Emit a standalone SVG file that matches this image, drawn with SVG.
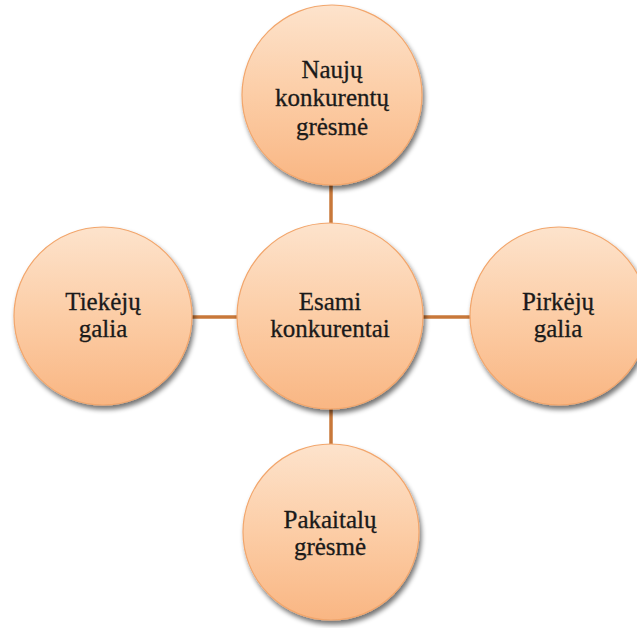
<svg xmlns="http://www.w3.org/2000/svg" width="637" height="628" viewBox="0 0 637 628">
  <defs>
    <linearGradient id="peach" x1="0" y1="0" x2="0" y2="1">
      <stop offset="0" stop-color="#fde3cc"/>
      <stop offset="0.5" stop-color="#fccda6"/>
      <stop offset="1" stop-color="#f9b683"/>
    </linearGradient>
    <filter id="shadow" x="-20%" y="-20%" width="140%" height="140%">
      <feGaussianBlur in="SourceAlpha" stdDeviation="2.5"/>
      <feOffset dx="2" dy="4" result="b"/>
      <feComponentTransfer in="b" result="s">
        <feFuncA type="linear" slope="0.55"/>
      </feComponentTransfer>
      <feMerge>
        <feMergeNode in="s"/>
        <feMergeNode in="SourceGraphic"/>
      </feMerge>
    </filter>
  </defs>
  <style>
    .node { fill: url(#peach); stroke: #f2a66c; stroke-width: 1.2; filter: url(#shadow); }
    .conn { stroke: #c8783a; stroke-width: 3.5; fill: none; }
    .lbl { font-family: "Liberation Serif", "Times New Roman", serif; font-size: 25px; fill: #1a1a1a; stroke: #1a1a1a; stroke-width: 0.3; text-anchor: middle; }
  </style>
  <rect width="637" height="628" fill="#ffffff"/>
  <g id="connectors">
    <line class="conn" x1="331" y1="185" x2="331" y2="225"/>
    <line class="conn" x1="192" y1="317" x2="237" y2="317"/>
    <line class="conn" x1="423" y1="317" x2="471" y2="317"/>
    <line class="conn" x1="331" y1="407" x2="331" y2="446"/>
  </g>
  <g id="top">
    <circle class="node" cx="332" cy="95" r="90"/>
    <text class="lbl" x="332" y="78">Naujų</text>
    <text class="lbl" x="332" y="106">konkurentų</text>
    <text class="lbl" x="332" y="135">grėsmė</text>
  </g>
  <g id="left">
    <circle class="node" cx="103" cy="316" r="89"/>
    <text class="lbl" x="103" y="310">Tiekėjų</text>
    <text class="lbl" x="103" y="337">galia</text>
  </g>
  <g id="center">
    <circle class="node" cx="330" cy="316" r="93"/>
    <text class="lbl" x="330" y="310">Esami</text>
    <text class="lbl" x="330" y="337">konkurentai</text>
  </g>
  <g id="right">
    <circle class="node" cx="559" cy="316" r="89"/>
    <text class="lbl" x="558" y="310">Pirkėjų</text>
    <text class="lbl" x="558" y="337">galia</text>
  </g>
  <g id="bottom">
    <circle class="node" cx="331" cy="532" r="88"/>
    <text class="lbl" x="330" y="528">Pakaitalų</text>
    <text class="lbl" x="330" y="555">grėsmė</text>
  </g>
</svg>
